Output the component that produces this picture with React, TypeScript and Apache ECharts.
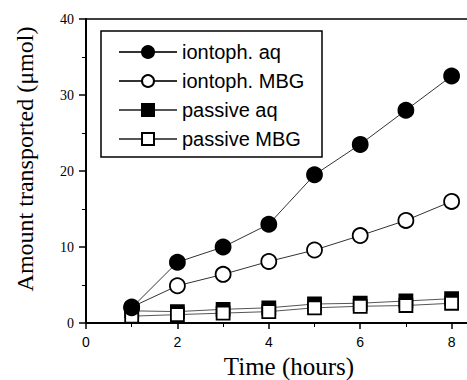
import React, { useEffect, useRef } from "react";
import * as echarts from "echarts";

const hours = [1, 2, 3, 4, 5, 6, 7, 8];
const iontophAq = [2.0, 8.0, 10.0, 13.0, 19.5, 23.5, 28.0, 32.5];
const iontophMBG = [2.1, 4.9, 6.4, 8.1, 9.6, 11.5, 13.5, 16.0];
const passiveAq = [1.6, 1.5, 1.8, 2.0, 2.5, 2.6, 2.9, 3.2];
const passiveMBG = [0.9, 1.1, 1.3, 1.5, 2.0, 2.2, 2.3, 2.6];
const seriesNames = ["iontoph. aq", "iontoph. MBG", "passive aq", "passive MBG"];
const xTickLabels = ["0", "2", "4", "6", "8"];

const pairs = (ys: number[]) => hours.map((h, i) => [h, ys[i]]);

export default function App() {
  const ref = useRef<HTMLDivElement>(null);
  useEffect(() => {
    if (!ref.current) return;
    const chart = echarts.init(ref.current, null, { renderer: "svg" });
    const mk = (
      name: string,
      ys: number[],
      symbol: string,
      filled: boolean,
      size: number,
      z: number,
      lineColor: string
    ) => ({
      name,
      type: "line",
      data: pairs(ys),
      symbol,
      symbolSize: size,
      showAllSymbol: true,
      z,
      lineStyle: { color: lineColor, width: 1 },
      itemStyle: {
        color: filled ? "#000" : "#fff",
        borderColor: "#000",
        borderWidth: 1.8,
        opacity: 1,
      },
    });
    chart.setOption({
      animation: false,
      backgroundColor: "#fff",
      grid: {
        left: 86,
        top: 19,
        right: 0,
        bottom: 57,
        show: true,
        borderColor: "#000",
        borderWidth: 1.5,
      },
      legend: {
        orient: "vertical",
        left: 101,
        top: 31,
        z: 10,
        data: seriesNames,
        itemWidth: 58,
        itemHeight: 15,
        itemGap: 9,
        padding: [11, 0, 8, 17],
        textStyle: {
          fontFamily: "Liberation Sans",
          fontSize: 20,
          lineHeight: 20,
          color: "#000",
        },
        selectedMode: false,
      },
      xAxis: {
        type: "value",
        min: 0,
        max: 10,
        interval: 2,
        axisLine: { show: true, lineStyle: { color: "#000", width: 2 } },
        axisTick: { show: true, length: 6, lineStyle: { color: "#000", width: 1.5 } },
        minorTick: { show: true, splitNumber: 2, length: 4, lineStyle: { color: "#000", width: 1 } },
        splitLine: { show: false },
        axisLabel: {
          margin: 12,
          fontFamily: "Liberation Sans",
          fontSize: 14,
          color: "#000",
          formatter: (v: number) =>
            xTickLabels.indexOf(String(v)) >= 0 ? String(v) : "",
        },
      },
      yAxis: {
        type: "value",
        min: 0,
        max: 40,
        interval: 10,
        axisLine: { show: true, lineStyle: { color: "#000", width: 2 } },
        axisTick: { show: true, length: 7, lineStyle: { color: "#000", width: 1.5 } },
        minorTick: { show: true, splitNumber: 2, length: 4, lineStyle: { color: "#000", width: 1 } },
        splitLine: { show: false },
        axisLabel: {
          margin: 12,
          fontFamily: "Liberation Serif",
          fontSize: 14,
          color: "#000",
        },
      },
      graphic: [
        {
          type: "rect",
          z: 9,
          shape: { x: 101, y: 31, width: 221, height: 126 },
          style: { fill: "#fff", stroke: "#000", lineWidth: 1.5 },
        },
        {
          type: "text",
          x: 289,
          y: 366,
          style: {
            text: "Time (hours)",
            font: "25px 'Liberation Serif'",
            fill: "#000",
            align: "center",
            verticalAlign: "middle",
          },
        },
        {
          type: "text",
          x: 25,
          y: 159,
          rotation: Math.PI / 2,
          style: {
            text: "Amount transported (μmol)",
            font: "24px 'Liberation Serif'",
            fill: "#000",
            align: "center",
            verticalAlign: "middle",
          },
        },
      ],
      series: [
        mk(seriesNames[0], iontophAq, "circle", true, 15, 4, "#333"),
        mk(seriesNames[1], iontophMBG, "circle", false, 15, 3, "#333"),
        mk(seriesNames[2], passiveAq, "rect", true, 13, 2, "#555"),
        mk(seriesNames[3], passiveMBG, "rect", false, 13, 2, "#555"),
      ],
    });
    return () => chart.dispose();
  }, []);
  return (
    <div
      ref={ref}
      style={{ position: "fixed", left: 0, top: 0, width: 546, height: 380 }}
    />
  );
}
